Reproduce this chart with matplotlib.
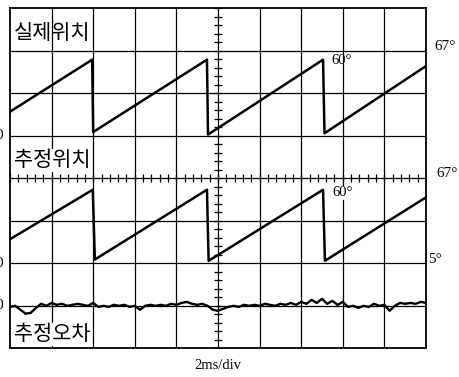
import numpy as np
import matplotlib
matplotlib.use('Agg')
import matplotlib.pyplot as plt

plt.rcParams['font.family'] = ['Noto Sans CJK KR', 'DejaVu Sans']

# scope settings: 2 ms/div, 10 x 8 divisions
ms_per_div = 2.0
deg_per_div = 33.5

# actual position (top trace), zero at division 5
t_real = [0, 3.95, 4.0, 9.47, 9.52, 15.05, 15.12, 20]
real_deg = [19, 60, 3, 60, 1, 60, 2, 55]

# estimated position (middle trace), zero at division 2
t_est = [0, 3.98, 4.08, 9.47, 9.55, 15.05, 15.14, 20]
est_deg = [19, 58, 3, 58, 2, 58, 2, 52]

# estimation error (bottom trace), zero at division 1, sampled every 0.25 ms
err_deg = [-0.8, 0, -3.1, -6.2, -5.5, -1.6, 1.6, 0, 2.3, 0.8,
           1.6, 0, 0.8, 1.6, 0.8, 0, 2.3, -0.8, 0, -0.8,
           0.8, 0, 0.8, -0.8, 0, -3.1, 0, 0.8, 0, 0.8,
           0, 1.6, 0.8, 2.3, 3.1, 1.6, 0.8, 1.6, 0, -3.1,
           -3.9, -2.3, -0.8, 0, -0.8, 0.8, 0, 0.8, 0, 1.6,
           0.8, 0, 1.6, 0.8, 2.3, 0.8, 3.1, 1.6, 4.7, 2.3,
           5.5, 1.6, 3.9, 0.8, 3.1, -0.8, 0, -1.6, 0, -0.8,
           1.6, 0, 0.8, -3.9, 0, 2.3, 1.6, 2.3, 1.6, 3.1,
           2.3]
t_err = np.linspace(0, 20, len(err_deg))

trace_labels = ['실제위치', '추정위치', '추정오차']
zero_rows = [5, 2, 1]


def to_div(t, deg, zero):
    return np.asarray(t) / ms_per_div, zero + np.asarray(deg) / deg_per_div


fig = plt.figure(figsize=(4.6, 3.77), dpi=100)
ax = fig.add_axes([0.0217, 0.076, 0.9044, 0.902])
ax.set_xlim(0, 10)
ax.set_ylim(0, 8)

# graticule
for i in range(1, 10):
    ax.axvline(i, color='black', lw=0.9)
for j in range(1, 8):
    ax.axhline(j, color='black', lw=0.9)
minor = np.arange(0, 8.01, 0.2)
ax.plot(np.full_like(minor, 5), minor, ls='none', marker='_', ms=6, mew=0.9, color='black')
minor_x = np.arange(0, 10.01, 0.2)
ax.plot(minor_x, np.full_like(minor_x, 4), ls='none', marker='|', ms=6, mew=0.9, color='black')

# traces
x, y = to_div(t_real, real_deg, zero_rows[0])
ax.plot(x, y, color='black', lw=1.8)
x, y = to_div(t_est, est_deg, zero_rows[1])
ax.plot(x, y, color='black', lw=1.8)
x, y = to_div(t_err, err_deg, zero_rows[2])
ax.plot(x, y, color='black', lw=1.7)

for s in ax.spines.values():
    s.set_linewidth(1.3)
ax.set_xticks([])
ax.set_yticks([])

# labels
lab_y = [7.42, 4.42, 0.33]
for k, (lab, ly) in enumerate(zip(trace_labels, lab_y)):
    box = None if k == 0 else dict(facecolor='white', edgecolor='none', pad=0.5)
    ax.text(0.1, ly, lab, fontsize=15, va='center', ha='left', bbox=box)

serif = ['Liberation Serif', 'DejaVu Serif']
ax.text(7.72, 6.78, '60°', family=serif, fontsize=10.5, va='center')
ax.text(7.74, 3.66, '60°', family=serif, fontsize=10.5, va='center',
        bbox=dict(facecolor='white', edgecolor='none', pad=0.3))
ax.text(10.2, 7.09, '67°', family=serif, fontsize=11, va='center', clip_on=False)
ax.text(10.25, 4.12, '67°', family=serif, fontsize=11, va='center', clip_on=False)
ax.text(10.05, 2.08, '5°', family=serif, fontsize=11, va='center', clip_on=False)
for z in zero_rows:
    ax.text(-0.17, z, '0', family=serif, fontsize=11, va='center', ha='right', clip_on=False)
ax.text(5, -0.4, '2ms/div', family=serif, fontsize=10.5, va='center', ha='center', clip_on=False)

fig.savefig('out.png', dpi=100)
